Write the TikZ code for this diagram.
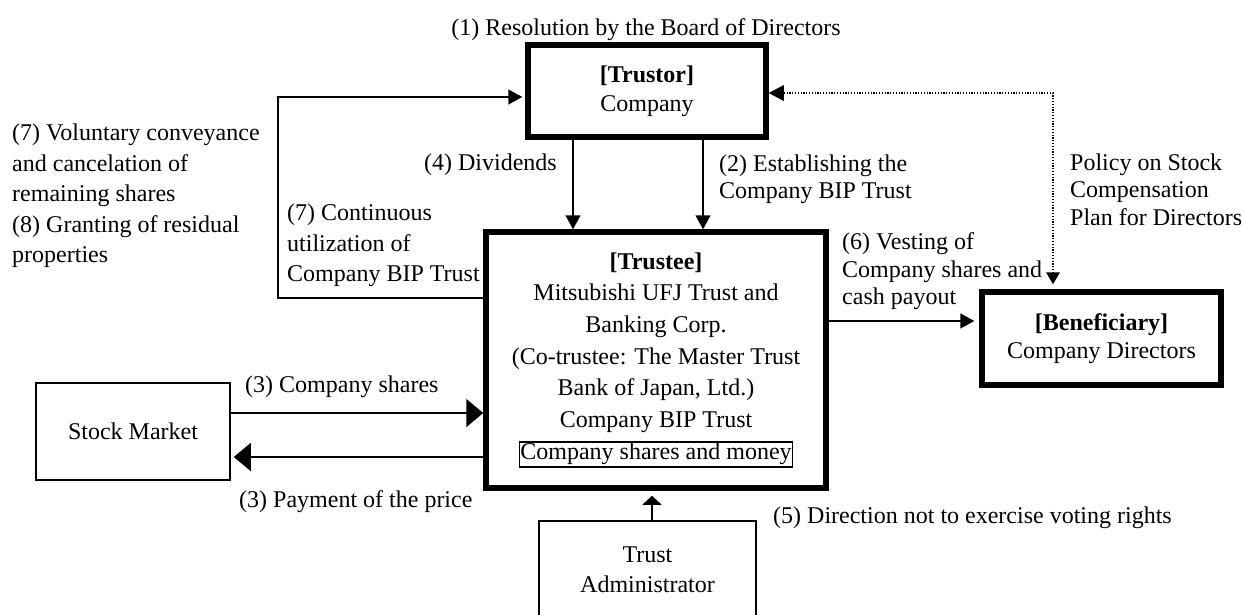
\documentclass[tikz,border=0pt]{standalone}
\usepackage{fontspec}
\setmainfont{Liberation Serif}
\usetikzlibrary{arrows.meta}
\setlength{\fboxsep}{0pt}
\setlength{\fboxrule}{1.2pt}
\newcommand{\myfs}[1]{\fontsize{24}{#1}\selectfont}
\begin{document}
\begin{tikzpicture}[x=1pt,y=-1pt,
  thickbox/.style={draw, line width=5.5pt, inner sep=0pt, align=center},
  thinbox/.style={draw, line width=1.5pt, inner sep=0pt, align=center},
  lbl/.style={inner sep=0pt, align=left, anchor=west},
  conn/.style={line width=1.5pt, -{Triangle[length=14pt,width=15pt]}},
  bigarr/.style={line width=1.5pt, -{Triangle[length=17pt,width=28pt]}},
  dotline/.style={line width=1.5pt, dash pattern=on 1.3pt off 1.5pt,
    {Triangle[length=15pt,width=16pt,line width=0pt]}-{Triangle[length=12pt,width=14pt,line width=0pt]}},
  every node/.style={font=\myfs{30}}]
\useasboundingbox (0,0) rectangle (1243,615);
\clip (0,0) rectangle (1243,615);

% boxes
\node[thickbox, minimum width=238pt, minimum height=92pt, font=\myfs{29}] (trustor) at (647,91)
  {\textbf{[Trustor]}\\Company};
\node[thickbox, minimum width=340pt, minimum height=256pt, font=\myfs{31.7}] (trustee) at (656,360)
  {\textbf{[Trustee]}\\Mitsubishi UFJ Trust and\\Banking Corp.\\(Co-trustee: The Master Trust\\Bank of Japan, Ltd.)\\Company BIP Trust\\\fbox{\rule[-7pt]{0pt}{23pt}Company shares and money}};
\node[thickbox, minimum width=239pt, minimum height=93pt, font=\myfs{28}] (beneficiary) at (1101.5,338.5)
  {\textbf{[Beneficiary]}\\Company Directors};
\node[thinbox, minimum width=194pt, minimum height=97pt] (stock) at (133,431.5) {Stock Market};
\node[thinbox, minimum width=217pt, minimum height=98pt] (admin) at (647.5,570) {Trust\\Administrator};

% labels
\node[inner sep=0pt] (t1) at (646,30) {(1) Resolution by the Board of Directors};
\node[inner sep=0pt, anchor=east] (t4) at (557,165) {(4) Dividends};
\node[lbl, font=\myfs{27}] (t2) at (719,179.5) {(2) Establishing the\\Company BIP Trust};
\node[lbl, font=\myfs{30.5}] (t78) at (12,196) {(7) Voluntary conveyance\\and cancelation of\\remaining shares\\(8) Granting of residual\\properties};
\node[lbl, font=\myfs{30.5}] (t7) at (287,245.5) {(7) Continuous\\utilization of\\Company BIP Trust};
\node[lbl, font=\myfs{27.5}] (t6) at (842,271.5) {(6) Vesting of\\Company shares and\\cash payout};
\node[lbl, font=\myfs{27.5}] (tp) at (1070,189.5) {Policy on Stock\\Compensation\\Plan for Directors};
\node[lbl] (t3a) at (245,387) {(3) Company shares};
\node[lbl] (t3b) at (239,502) {(3) Payment of the price};
\node[lbl] (t5) at (773,518) {(5) Direction not to exercise voting rights};

% helper coordinates
\coordinate (x4) at (573,0);
\coordinate (x2) at (703,0);
\coordinate (l1) at (278,298);
\coordinate (l2) at (278,97);
\coordinate (d1) at (1053,93);
\coordinate (y6) at (0,321);
\coordinate (y3a) at (0,413);
\coordinate (y3b) at (0,457);
\coordinate (x5) at (652,0);

% connectors
\draw[conn] (trustor.south -| x4) -- (trustee.north -| x4);
\draw[conn] (trustor.south -| x2) -- (trustee.north -| x2);
\draw[conn, shorten >=3pt] (l1 -| trustee.west) -- (l1) -- (l2) -- (l2 -| trustor.west);
\draw[dotline, shorten >=5pt] (d1 -| trustor.east) -- (d1) -- (beneficiary.north -| d1);
\draw[conn, shorten >=5pt] (y6 -| trustee.east) -- (y6 -| beneficiary.west);
\draw[bigarr] (y3a -| stock.east) -- (y3a -| trustee.west);
\draw[bigarr, shorten >=3pt] (y3b -| trustee.west) -- (y3b -| stock.east);
\draw[line width=1.5pt, -{Triangle[length=9pt,width=19pt]}, shorten >=5pt] (admin.north -| x5) -- (trustee.south -| x5);
\end{tikzpicture}
\end{document}
